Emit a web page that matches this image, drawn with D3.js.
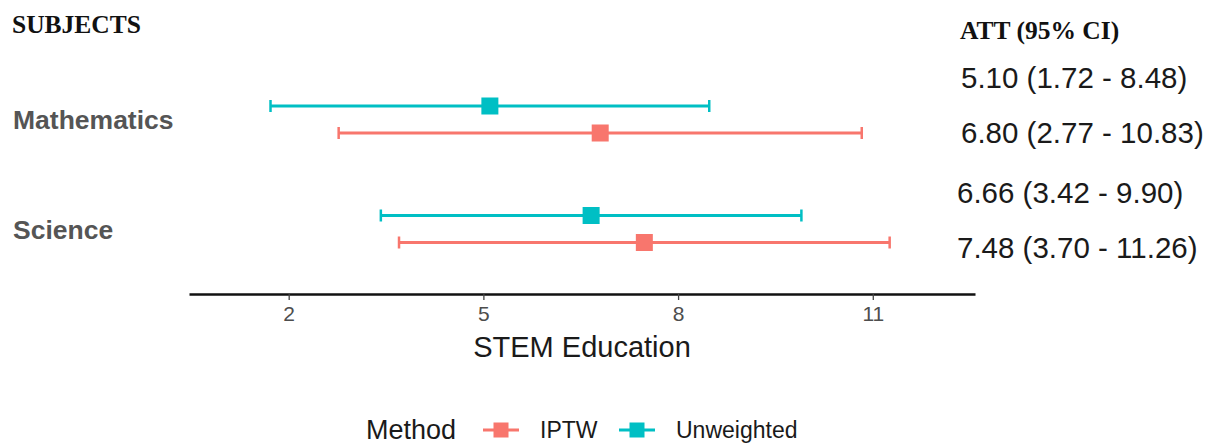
<!DOCTYPE html>
<html>
<head>
<meta charset="utf-8">
<script src="https://cdn.jsdelivr.net/npm/d3@7"></script>
<style>
  html, body { margin: 0; padding: 0; background: #fff; }
  svg { display: block; }
</style>
</head>
<body>
<svg id="chart" width="1208" height="444"></svg>
<script>
// Subjects and methods shown in the forest plot
const subjects = ["Mathematics", "Science"];
const methods = ["Unweighted", "IPTW"];
const legendOrder = ["IPTW", "Unweighted"];

// Average treatment effect on the treated with 95% CI, per subject
const unweightedEst = [5.10, 6.66];
const unweightedLow = [1.72, 3.42];
const unweightedHigh = [8.48, 9.90];
const iptwEst = [6.80, 7.48];
const iptwLow = [2.77, 3.70];
const iptwHigh = [10.83, 11.26];

const xTicks = [2, 5, 8, 11];
const xTitle = "STEM Education";
const colTitleLeft = "SUBJECTS";
const colTitleRight = "ATT (95% CI)";
const legendTitle = "Method";

const rows = [];
subjects.forEach((s, i) => {
  rows.push({ subject: s, method: "Unweighted", est: unweightedEst[i], lo: unweightedLow[i], hi: unweightedHigh[i] });
  rows.push({ subject: s, method: "IPTW", est: iptwEst[i], lo: iptwLow[i], hi: iptwHigh[i] });
});

const color = d3.scaleOrdinal().domain(["IPTW", "Unweighted"]).range(["#F8766D", "#00BFC4"]);

const svg = d3.select("#chart");

const x = d3.scaleLinear().domain([0.464, 12.575]).range([189, 975]);
const ySubject = d3.scalePoint().domain(subjects).range([119.5, 229]);
const yMethod = d3.scalePoint().domain(methods).range([-13.5, 13.5]);
const yRow = d => ySubject(d.subject) + yMethod(d.method);

const sans = "'Liberation Sans', Arial, sans-serif";
const serif = "'Liberation Serif', 'Times New Roman', serif";

// Column headers
svg.append("text").attr("x", 12).attr("y", 33)
  .attr("font-family", serif).attr("font-weight", "bold").attr("font-size", 25.5)
  .attr("fill", "#111").text(colTitleLeft);
svg.append("text").attr("x", 960).attr("y", 39)
  .attr("font-family", serif).attr("font-weight", "bold").attr("font-size", 25.5)
  .attr("fill", "#111").text(colTitleRight);

// Subject labels
svg.selectAll("text.subject").data(subjects).join("text")
  .attr("class", "subject")
  .attr("x", 13).attr("y", d => ySubject(d) + 9.5)
  .attr("font-family", sans).attr("font-weight", "bold").attr("font-size", 26.5)
  .attr("fill", "#555").text(d => d);

// Error bars
const bars = svg.append("g").selectAll("g").data(rows).join("g")
  .attr("stroke", d => color(d.method));
bars.append("line")
  .attr("x1", d => x(d.lo)).attr("x2", d => x(d.hi))
  .attr("y1", yRow).attr("y2", yRow).attr("stroke-width", 3);
bars.append("line")
  .attr("x1", d => x(d.lo)).attr("x2", d => x(d.lo))
  .attr("y1", d => yRow(d) - 6).attr("y2", d => yRow(d) + 6).attr("stroke-width", 2.5);
bars.append("line")
  .attr("x1", d => x(d.hi)).attr("x2", d => x(d.hi))
  .attr("y1", d => yRow(d) - 6).attr("y2", d => yRow(d) + 6).attr("stroke-width", 2.5);

// Point estimates
const sq = 17;
svg.append("g").selectAll("rect").data(rows).join("rect")
  .attr("x", d => x(d.est) - sq / 2).attr("y", d => yRow(d) - sq / 2)
  .attr("width", sq).attr("height", sq)
  .attr("fill", d => color(d.method));

// Estimate / CI text column
const labelRows = [
  { r: rows[0], y: 88, x: 961 },
  { r: rows[1], y: 143, x: 961 },
  { r: rows[2], y: 203, x: 957 },
  { r: rows[3], y: 258, x: 957 }
];
svg.selectAll("text.ci").data(labelRows).join("text")
  .attr("class", "ci")
  .attr("x", d => d.x).attr("y", d => d.y)
  .attr("font-family", sans).attr("font-size", 29.5).attr("fill", "#1a1a1a")
  .text(d => `${d.r.est.toFixed(2)} (${d.r.lo.toFixed(2)} - ${d.r.hi.toFixed(2)})`);

// X axis
const axisY = 294;
const axis = svg.append("g").attr("transform", `translate(0,${axisY})`)
  .call(d3.axisBottom(x).tickValues(xTicks).tickSize(6).tickSizeOuter(0).tickPadding(6).tickFormat(d3.format("d")));
axis.select(".domain").attr("stroke", "#111").attr("stroke-width", 2.6);
axis.selectAll(".tick line").attr("stroke", "#444").attr("stroke-width", 1.3);
axis.selectAll(".tick text").attr("font-family", sans).attr("font-size", 21).attr("fill", "#4d4d4d");

svg.append("text").attr("x", x(6.52)).attr("y", 357)
  .attr("text-anchor", "middle")
  .attr("font-family", sans).attr("font-size", 29).attr("fill", "#1a1a1a").text(xTitle);

// Legend
const legY = 430;
svg.append("text").attr("x", 366).attr("y", legY + 8.5)
  .attr("font-family", sans).attr("font-size", 27).attr("fill", "#1a1a1a").text(legendTitle);
const legX = { "IPTW": 483, "Unweighted": 619 };
const legTextX = { "IPTW": 540, "Unweighted": 676 };
const leg = svg.append("g").selectAll("g").data(legendOrder).join("g")
  .attr("transform", d => `translate(${legX[d]},${legY})`);
leg.append("line").attr("x1", 0).attr("x2", 36).attr("y1", 0).attr("y2", 0)
  .attr("stroke", d => color(d)).attr("stroke-width", 3);
leg.append("rect").attr("x", 18 - 7.5).attr("y", -7.5).attr("width", 15).attr("height", 15)
  .attr("fill", d => color(d));
leg.append("text").attr("x", d => legTextX[d] - legX[d]).attr("y", 8)
  .attr("font-family", sans).attr("font-size", 23).attr("fill", "#1a1a1a").text(d => d);
</script>
</body>
</html>
